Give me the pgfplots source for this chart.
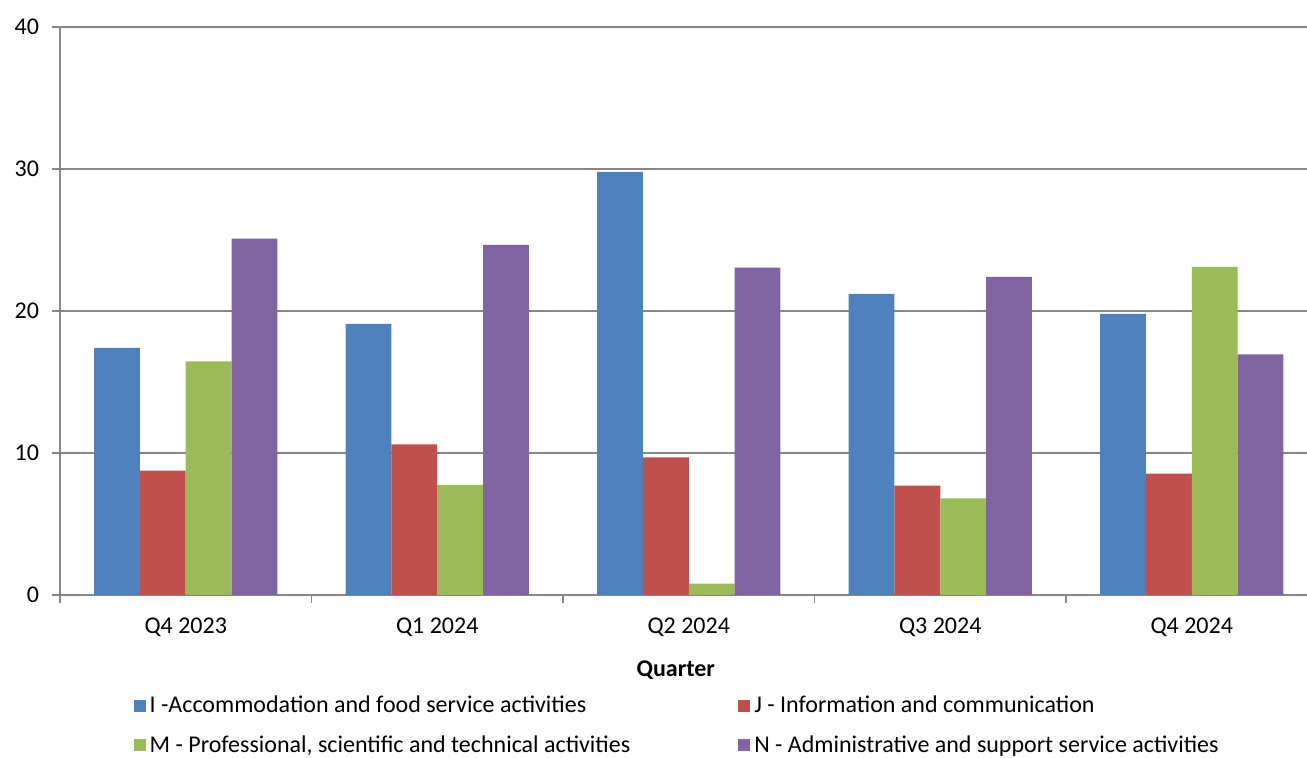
\documentclass[border=0pt]{standalone}
\usepackage{pgfplots}
\pgfplotsset{compat=1.18}
\usepackage{fontspec}
\setmainfont{Carlito}
\definecolor{serI}{HTML}{4F81BD}
\definecolor{serJ}{HTML}{C0504D}
\definecolor{serM}{HTML}{9BBB59}
\definecolor{serN}{HTML}{8064A2}
\definecolor{axgray}{HTML}{878787}
\begin{document}
\begin{tikzpicture}
\useasboundingbox (0,0) rectangle (653.5pt,379pt);
\begin{axis}[
    at={(30pt,81.5pt)}, anchor=south west,
    scale only axis, width=628.75pt, height=284pt,
    ybar=0pt,
    bar width=0.182,
    xmin=-0.5, xmax=4.5,
    ymin=0, ymax=40,
    ytick={0,10,...,40},
    xtick={0,...,4},
    xticklabels={Q4 2023,Q1 2024,Q2 2024,Q3 2024,Q4 2024},
    minor xtick={-0.5,0.5,...,4.5},
    major x tick style={draw=none},
    tick align=outside,
    major tick length=4pt, minor tick length=4pt,
    tick style={axgray, line width=0.9pt},
    axis lines*=left,
    axis line style={axgray, line width=0.9pt},
    ymajorgrids, grid style={axgray, line width=0.9pt},
    font=\fontsize{12}{14}\selectfont,
    ticklabel style={font=\fontsize{12}{14}\selectfont},
    /pgf/number format/assume math mode=true,
    xticklabel style={yshift=-4pt},
    yticklabel style={xshift=-3pt},
    xlabel={\textbf{Quarter}},
    xlabel style={yshift=-5pt, xshift=-6.5pt},
    legend columns=2,
    legend cell align=left,
    legend style={at={(0.0535,-0.163)}, anchor=north west, draw=none, fill=none,
        font=\fontsize{12}{14}\selectfont,
        /tikz/every even column/.append style={column sep=52pt},
        row sep=6pt,
        nodes={inner xsep=2pt}},
    legend image code/.code={\fill[#1] (0pt,-3pt) rectangle (6pt,3pt);},
    every axis plot/.append style={draw=none},
]
\addplot[fill=serI, bar shift=-0.273] coordinates {(0,17.4) (1,19.1) (2,29.8) (3,21.2) (4,19.8)};
\addplot[fill=serJ, bar shift=-0.091] coordinates {(0,8.75) (1,10.6) (2,9.7) (3,7.7) (4,8.55)};
\addplot[fill=serM, bar shift=0.091] coordinates {(0,16.45) (1,7.75) (2,0.8) (3,6.8) (4,23.1)};
\addplot[fill=serN, bar shift=0.273] coordinates {(0,25.1) (1,24.65) (2,23.05) (3,22.4) (4,16.95)};
\legend{I -Accommodation and food service activities, J - Information and communication,
        {M - Professional, scientific and technical activities}, N - Administrative and support service activities}
\end{axis}
\end{tikzpicture}
\end{document}
